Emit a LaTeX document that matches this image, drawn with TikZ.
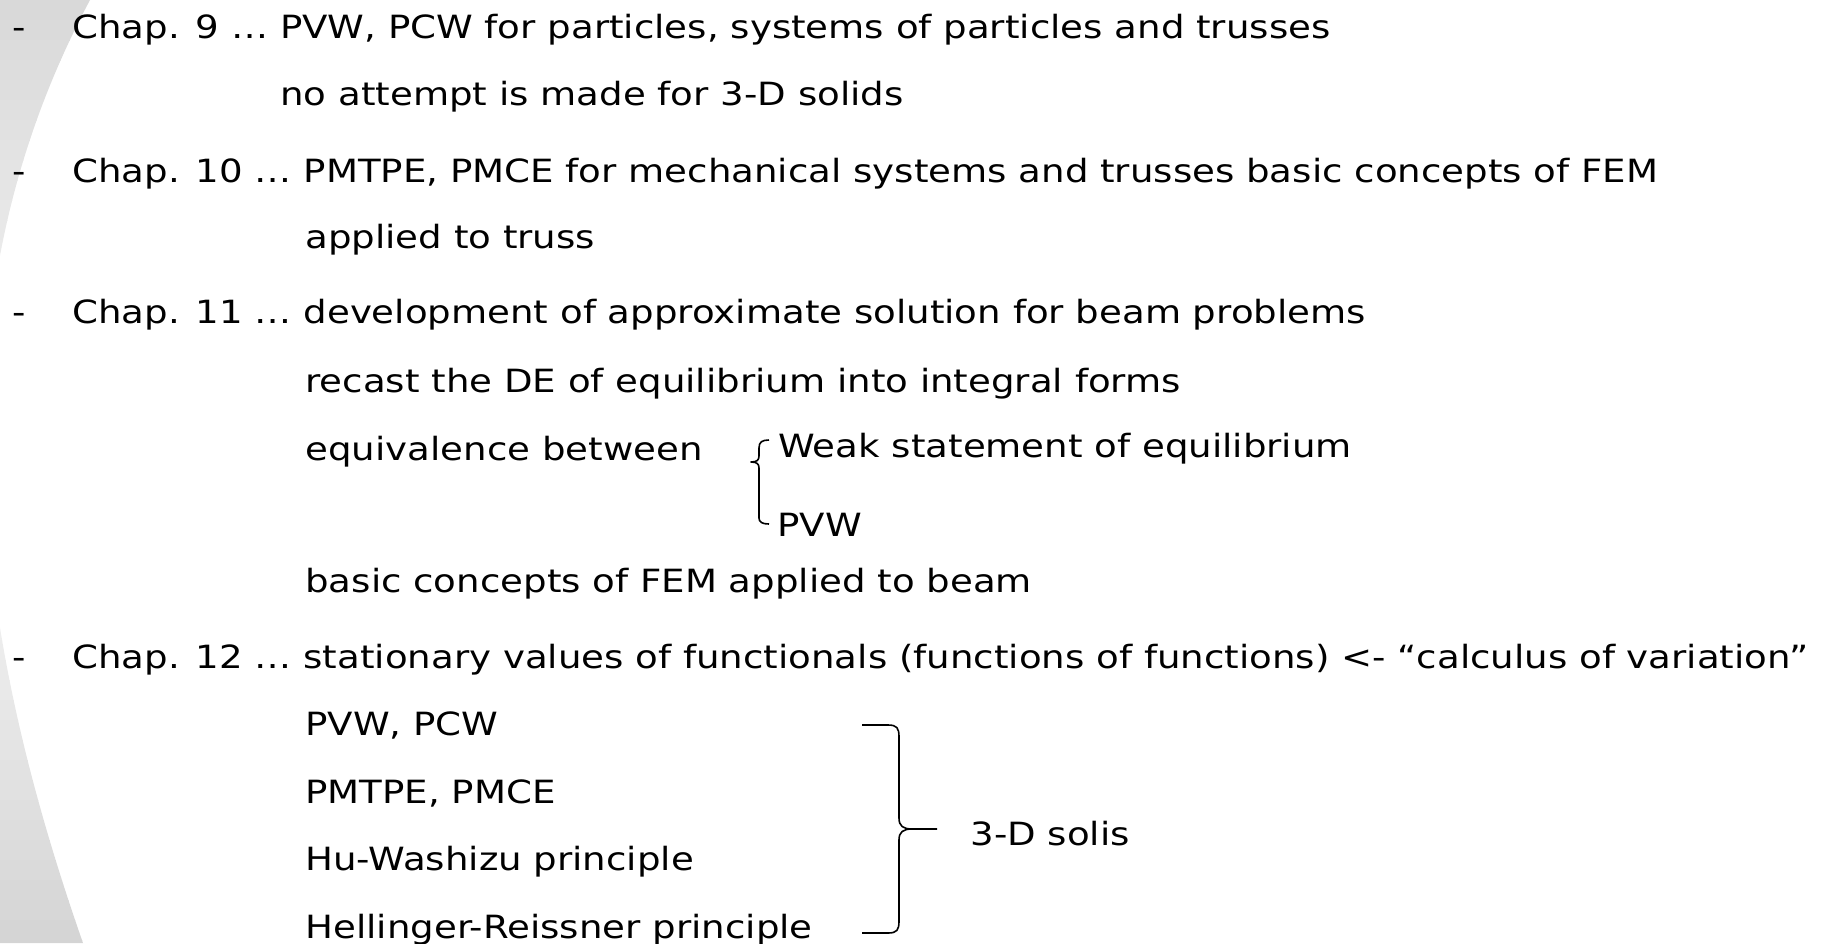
\documentclass[tikz,border=0pt]{standalone}
\usepackage{fontspec}
\setmainfont{DejaVu Sans}[FakeStretch=1.16]
\usetikzlibrary{positioning}

\begin{document}
\begin{tikzpicture}[x=0.5pt,y=-0.5pt
    , every node/.style={inner sep=0pt,anchor=base west,font=\fontsize{16}{19}\selectfont}
    , brace/.style={line width=0.8pt,line join=round}
]
    \useasboundingbox (0,0) rectangle (1825,943);

    % Background.
    \begin{scope}
        \clip (-100,0) -- (90,0) .. controls (-70,300) and (-30,620) .. (83,943)
            -- (-100,943) -- cycle;
        \foreach \i in {0,...,47}
        {
            \pgfmathsetmacro\shadeval{\i<24 ? 15-13*\i/23.5 : 2+15*(\i-23.5)/23.5}
            \fill[black!\shadeval] (0,\i*20) rectangle (200,\i*20+21);
        }
    \end{scope}

    % Bullets.
    \foreach \y [count=\c from 9] in {38,182,323,668}
        \node (dash\c) at (12,\y) {-};

    % Chap. 9
    \node (chap9) at (72,38) {Chap. 9 … PVW, PCW for particles, systems of particles and trusses};
    \node (nosolid) at (280,105) {no attempt is made for 3-D solids};

    % Chap. 10
    \node (chap10) at (72,182) {Chap. 10 … PMTPE, PMCE for mechanical systems and trusses basic concepts of FEM};
    \node (truss) at (305,248) {applied to truss};

    % Chap. 11
    \node (chap11) at (72,323) {Chap. 11 … development of approximate solution for beam problems};
    \node (recast) at (305,392) {recast the DE of equilibrium into integral forms};
    \node (equiv) at (305,460) {equivalence between};
    \node (weak) at (778,457) {Weak statement of equilibrium};
    \node (pvw) at (777,536) {PVW};
    \node (beam) at (305,592) {basic concepts of FEM applied to beam};

    \draw[brace] (769,440) .. controls (762,440) and (759,442) .. (759,448) -- (759,456)
        .. controls (759,460) and (757,462) .. (751,462)
        .. controls (757,462) and (759,464) .. (759,468) -- (759,518)
        .. controls (759,522) and (762,524) .. (769,524);

    % Chap. 12
    \node (chap12) at (72,668) {Chap. 12 … stationary values of functionals (functions of functions) <- “calculus of variation”};
    \foreach \y/\txt [count=\i] in {735/{PVW, PCW},803/{PMTPE, PMCE},870/{Hu-Washizu principle},938/{Hellinger-Reissner principle}}
        \node (principle\i) at (305,\y) {\txt};

    \draw[brace] (862,725) -- (888,725) .. controls (897,725) and (899,728) .. (899,737) -- (899,818)
        .. controls (899,826) and (903,829) .. (912,829) coordinate (tip) -- (937,829)
        (tip) .. controls (903,829) and (899,832) .. (899,840) -- (899,921)
        .. controls (899,930) and (897,933) .. (888,933) -- (862,933);
    \node (solids) at (970,845) {3-D solis};

\end{tikzpicture}
\end{document}
